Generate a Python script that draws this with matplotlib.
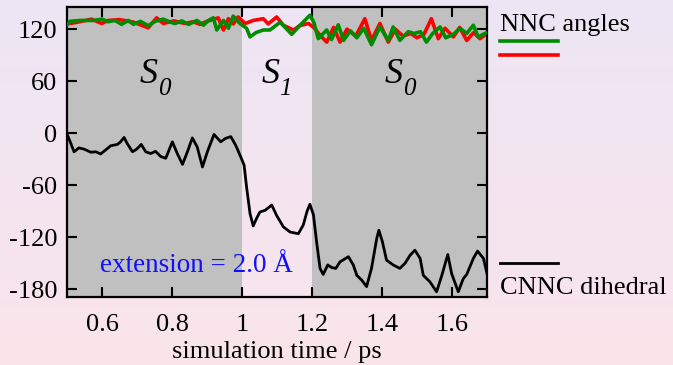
import matplotlib
matplotlib.use("Agg")
import matplotlib.pyplot as plt
import numpy as np
from matplotlib.lines import Line2D

# CNNC dihedral (black)
bx = [0.501, 0.511, 0.520, 0.534, 0.549, 0.568, 0.582, 0.596, 0.610, 0.625,
      0.644, 0.653, 0.663, 0.672, 0.687, 0.699, 0.712, 0.725, 0.739, 0.753,
      0.768, 0.782, 0.801, 0.815, 0.830, 0.844, 0.858, 0.872, 0.887, 0.901,
      0.920, 0.939, 0.953, 0.968, 0.982, 0.996, 1.006, 1.013, 1.023, 1.032,
      1.042, 1.051, 1.066, 1.085, 1.099, 1.118, 1.137, 1.161, 1.175, 1.186,
      1.194, 1.204, 1.213, 1.223, 1.232, 1.245, 1.256, 1.268, 1.280, 1.304,
      1.318, 1.328, 1.342, 1.356, 1.370, 1.385, 1.391, 1.401, 1.413, 1.432,
      1.451, 1.466, 1.480, 1.494, 1.509, 1.518, 1.537, 1.556, 1.571, 1.588,
      1.599, 1.618, 1.632, 1.642, 1.661, 1.673, 1.690, 1.700]
by = [-2, -12, -21.5, -17, -18.5, -22, -21.5, -24, -19.5, -14.5,
      -13, -10, -5, -12, -21.5, -18.5, -13, -21.5, -23.5, -21,
      -27, -29, -10, -23.5, -36, -21.5, -5.5, -16, -39, -21.5,
      -1.5, -10, -6, -4, -14, -27, -37, -62, -93, -107,
      -98, -91, -89, -83, -95, -108, -114, -116, -106, -90,
      -82, -94, -125, -156, -163, -152, -155, -156, -148.5, -142.5,
      -152, -164, -169.5, -177, -156, -121.5, -112, -125, -146.5, -152,
      -156, -150, -141, -135, -144.5, -164, -171.5, -183, -164, -140,
      -162, -183, -168, -163, -144.5, -136, -144.5, -162]

# NNC angle 1 (green)
gx = [0.500, 0.509, 0.537, 0.575, 0.600, 0.618, 0.637, 0.656, 0.675, 0.690,
      0.710, 0.732, 0.752, 0.775, 0.795, 0.809, 0.828, 0.847, 0.871, 0.890,
      0.904, 0.918, 0.928, 0.947, 0.961, 0.975, 0.994, 1.013, 1.023, 1.040,
      1.061, 1.080, 1.109, 1.142, 1.166, 1.194, 1.205, 1.218, 1.242, 1.256,
      1.275, 1.290, 1.310, 1.328, 1.348, 1.370, 1.394, 1.418, 1.432, 1.451,
      1.475, 1.492, 1.510, 1.527, 1.545, 1.566, 1.582, 1.604, 1.623, 1.642,
      1.661, 1.675, 1.694, 1.700]
gy = [125, 129, 130, 130, 131.5, 128.5, 130, 125.5, 130, 125.5,
      129, 124, 129, 131.5, 128, 126.5, 129.5, 125.5, 130, 124.5,
      130, 133, 119, 130, 121, 135, 126.5, 121, 111, 116,
      119, 119, 128, 114, 124.5, 136, 128, 109, 119, 108,
      125, 107, 118, 110, 121, 102, 122.5, 107, 122.5, 107,
      117, 115, 117, 105, 115, 122.5, 110, 114, 121, 115,
      124.5, 111, 115, 116]

# NNC angle 2 (red)
rx = [0.500, 0.530, 0.570, 0.599, 0.618, 0.650, 0.690, 0.732, 0.756, 0.775,
      0.805, 0.837, 0.860, 0.880, 0.900, 0.932, 0.947, 0.961, 0.975, 0.989,
      1.009, 1.032, 1.061, 1.075, 1.099, 1.118, 1.147, 1.165, 1.190, 1.205,
      1.223, 1.242, 1.262, 1.280, 1.300, 1.325, 1.351, 1.370, 1.394, 1.418,
      1.438, 1.460, 1.482, 1.500, 1.520, 1.541, 1.561, 1.580, 1.604, 1.622,
      1.642, 1.662, 1.680, 1.700]
ry = [126, 128, 131.5, 126.5, 130, 131, 128, 121.5, 133, 126.5,
      129.5, 126.5, 128.5, 125.5, 129, 133, 119, 132, 126, 134,
      126.5, 130, 132, 126, 134, 124.5, 119, 124, 126.5, 122,
      113, 105, 122, 105, 120, 112, 132, 107, 126.5, 105,
      120, 112, 115, 110, 114, 132, 109, 121, 111, 122,
      107, 116, 109, 115]

s0_spans = [(0.5, 1.0), (1.2, 1.7)]
state_x = [0.734, 1.081, 1.433]
state_sub = ["0", "1", "0"]

plt.rcParams["font.family"] = "Liberation Serif"
plt.rcParams["axes.unicode_minus"] = False

fig = plt.figure(figsize=(6.73, 3.65), dpi=100)

# background gradient lavender -> pink
bg = fig.add_axes([0, 0, 1, 1], zorder=-10)
top = np.array([237, 230, 245]) / 255
bot = np.array([250, 228, 234]) / 255
t = np.linspace(0, 1, 256)[:, None]
grad = (top * (1 - t) + bot * t)[:, None, :]
bg.imshow(grad, aspect="auto", extent=[0, 1, 0, 1])
bg.axis("off")

ax = fig.add_axes([0.0996, 0.1863, 0.624, 0.7945])
ax.patch.set_alpha(0)
for a, b in s0_spans:
    ax.axvspan(a, b, color="#c0c0c0", lw=0, zorder=0)

ax.plot(rx, ry, color="#ff0000", lw=2.6, zorder=2, solid_joinstyle="round")
ax.plot(gx, gy, color="#008c00", lw=2.6, zorder=3, solid_joinstyle="round")
ax.plot(bx, by, color="black", lw=2.0, zorder=4, solid_joinstyle="round")

# state labels: italic S with italic subscript digit
for x, sub in zip(state_x, state_sub):
    ax.text(x, 68, "S", fontsize=26, style="italic", ha="center", va="center")
    ax.annotate(sub, (x, 68), xytext=(11, -11), textcoords="offset points",
                fontsize=18, style="italic", ha="center", va="center")

ax.text(0.871, -153, "extension = 2.0 Å", color="#1010ff", fontsize=19.5, ha="center", va="center")

ax.set_xlim(0.5, 1.7)
ax.set_ylim(-189, 145.5)
ax.set_xticks([0.6, 0.8, 1.0, 1.2, 1.4, 1.6])
ax.set_xticklabels(["0.6", "0.8", "1", "1.2", "1.4", "1.6"])
ax.set_yticks([120, 60, 0, -60, -120, -180])
ax.tick_params(direction="in", length=7, width=1.5, labelsize=19, top=True, right=True, pad=7)
ax.tick_params(axis="x", pad=12)
for sp in ax.spines.values():
    sp.set_linewidth(1.6)
ax.set_xlabel("simulation time / ps", fontsize=19, labelpad=4)

# legend drawn by hand on the right
fig.text(0.743, 0.932, "NNC angles", fontsize=19, va="center")
fig.add_artist(Line2D([0.743, 0.829], [0.888, 0.888], color="#008c00", lw=2.6))
fig.add_artist(Line2D([0.743, 0.829], [0.849, 0.849], color="#ff0000", lw=2.6))
fig.add_artist(Line2D([0.743, 0.829], [0.279, 0.279], color="black", lw=2.0))
fig.text(0.743, 0.212, "CNNC dihedral", fontsize=19, va="center")

fig.savefig("out.png", dpi=100)
